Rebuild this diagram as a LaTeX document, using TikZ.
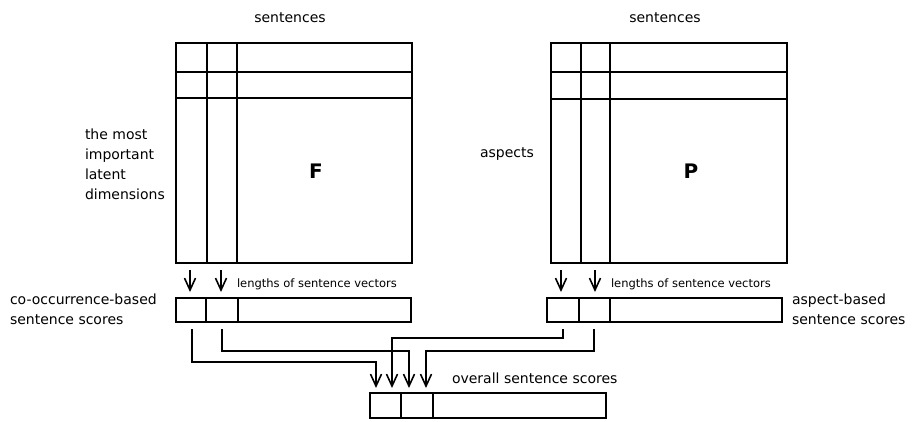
\documentclass[tikz,border=0pt]{standalone}
\usepackage{fontspec}
\setmainfont{DejaVu Sans}
\usetikzlibrary{arrows.meta}
\begin{document}
\begin{tikzpicture}[x=1pt,y=-1pt,
  lbl/.style={font={\fontsize{14}{20}\selectfont}, inner sep=0pt, outer sep=0pt},
  small/.style={font={\fontsize{11.5}{14}\selectfont}, inner sep=0pt, outer sep=0pt},
  big/.style={font={\fontsize{20}{24}\selectfont\bfseries}, inner sep=0pt},
  box/.style={draw, line width=2pt, inner sep=0pt, outer sep=0pt, anchor=north west},
  grid/.style={line width=2pt},
  arr/.style={line width=2pt, -{Straight Barb[length=12pt,width=11pt,line width=1.6pt]}},
  link/.style={arr, shorten <=7pt, shorten >=5pt}
]
\useasboundingbox (0,0) rectangle (913,421);

% matrices
\node[box, minimum width=236pt, minimum height=220pt] (F) at (176,43) {};
\draw[grid] (176,72) -- (412,72) (176,98) -- (412,98) (207,43) -- (207,263) (237,43) -- (237,263);
\node[box, minimum width=236pt, minimum height=220pt] (P) at (551,43) {};
\draw[grid] (551,72) -- (787,72) (551,99) -- (787,99) (581,43) -- (581,263) (610,43) -- (610,263);

% score boxes
\node[box, minimum width=235pt, minimum height=24pt] (cs) at (176,298) {};
\draw[grid] (206,298) -- (206,322) (238,298) -- (238,322);
\node[box, minimum width=235pt, minimum height=24pt] (as) at (547,298) {};
\draw[grid] (579,298) -- (579,322) (610,298) -- (610,322);
\node[box, minimum width=236pt, minimum height=25pt] (os) at (370,393) {};
\draw[grid] (401,393) -- (401,418) (433,393) -- (433,418);

% labels
\node[lbl, anchor=base] (s1) at (290,22) {sentences};
\node[lbl, anchor=base] (s2) at (665,22) {sentences};
\node[lbl, anchor=north west, align=left] (dims) at (85,129) {the most\\important\\latent\\dimensions};
\node[lbl, anchor=base west] (asp) at (480,157) {aspects};
\node[big] (Fl) at (316,171) {F};
\node[big] (Pl) at (691,171) {P};
\node[small, anchor=base west] (len1) at (237,287) {lengths of sentence vectors};
\node[small, anchor=base west] (len2) at (611,287) {lengths of sentence vectors};
\node[lbl, anchor=north west, align=left] (csl) at (10,294) {co-occurrence-based\\sentence scores};
\node[lbl, anchor=north west, align=left] (asl) at (792,294) {aspect-based\\sentence scores};
\node[lbl, anchor=base west] (osl) at (452,383) {overall sentence scores};

% matrix -> score arrows
\draw[arr, shorten <=7pt, shorten >=6pt] ([xshift=14pt]F.south west) -- ([xshift=14pt]F.south west |- cs.north);
\draw[arr, shorten <=7pt, shorten >=6pt] ([xshift=45pt]F.south west) -- ([xshift=45pt]F.south west |- cs.north);
\draw[arr, shorten <=7pt, shorten >=6pt] ([xshift=10pt]P.south west) -- ([xshift=10pt]P.south west |- as.north);
\draw[arr, shorten <=7pt, shorten >=6pt] ([xshift=44pt]P.south west) -- ([xshift=44pt]P.south west |- as.north);

% score -> overall connectors
\draw[link] ([xshift=16pt]cs.south west) -- ++(0,40) -| ([xshift=6pt]os.north west);
\draw[link] ([xshift=46pt]cs.south west) -- ++(0,29) -| ([xshift=39pt]os.north west);
\draw[link] ([xshift=16pt]as.south west) -- ++(0,16) -| ([xshift=22pt]os.north west);
\draw[link] ([xshift=47pt]as.south west) -- ++(0,29) -| ([xshift=56pt]os.north west);
\end{tikzpicture}
\end{document}
